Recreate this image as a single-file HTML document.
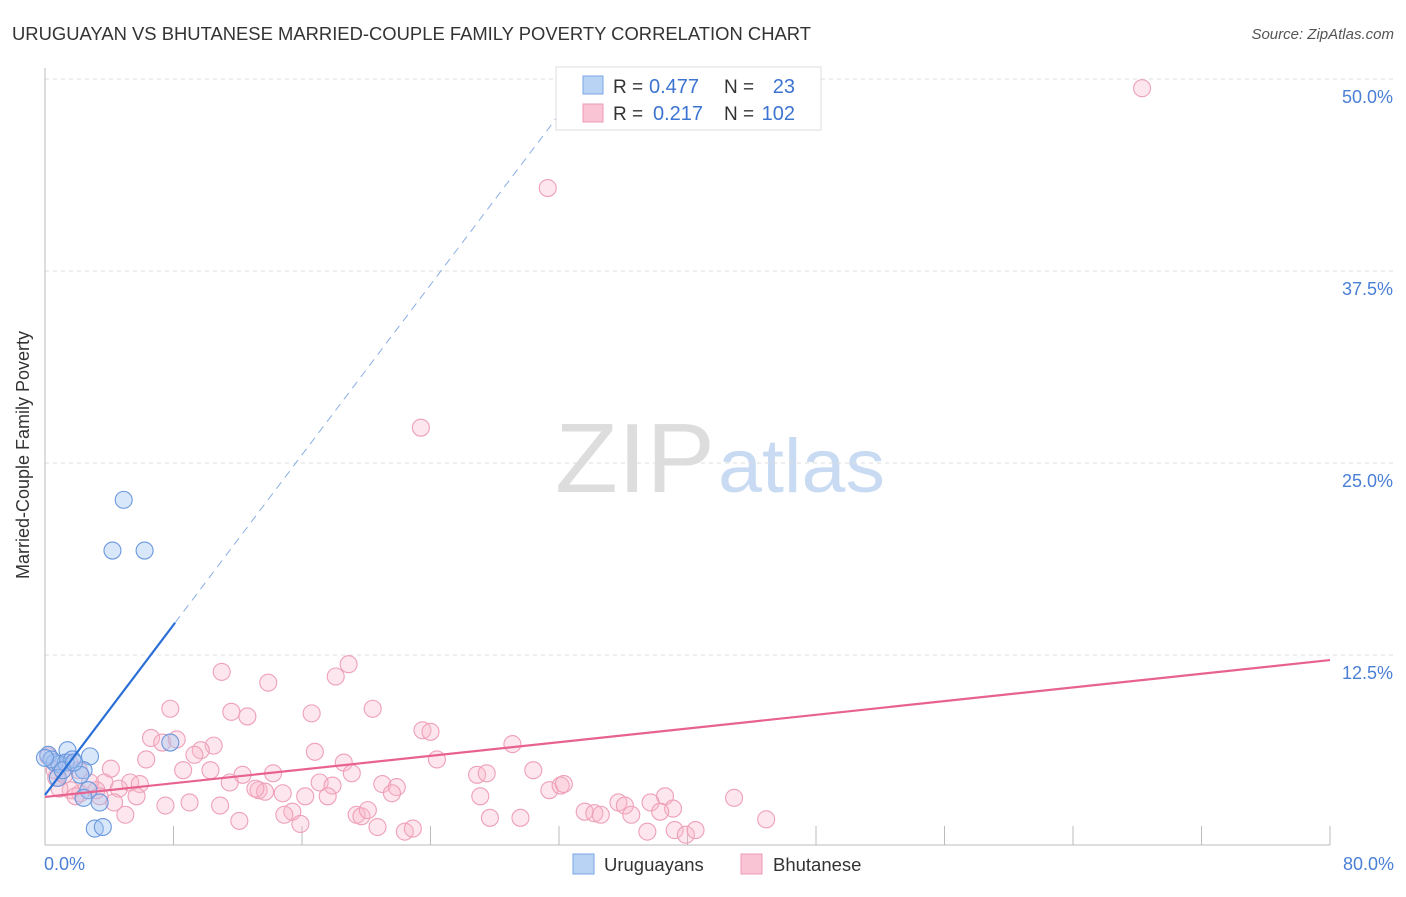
<!DOCTYPE html>
<html><head><meta charset="utf-8"><style>
body{margin:0;background:#fff;font-family:"Liberation Sans",sans-serif;}
svg text{font-family:"Liberation Sans",sans-serif;}
</style></head><body>
<svg width="1406" height="892" xmlns="http://www.w3.org/2000/svg">
<text x="12" y="40" font-size="18.5" fill="#333" textLength="799" lengthAdjust="spacingAndGlyphs">URUGUAYAN VS BHUTANESE MARRIED-COUPLE FAMILY POVERTY CORRELATION CHART</text>
<text x="1394" y="39" font-size="15" fill="#555" text-anchor="end" font-style="italic">Source: ZipAtlas.com</text>
<g>
<text x="555" y="492" font-size="98" fill="#ddd" font-family="Liberation Serif" textLength="160" lengthAdjust="spacingAndGlyphs">ZIP</text>
<text x="718" y="492" font-size="76" fill="#c9dbf3" textLength="167" lengthAdjust="spacingAndGlyphs">atlas</text>
</g>
<g id="grid"></g>
<g id="axes"></g>
<g id="marks"></g>
<text x="29" y="455" font-size="18" fill="#333" text-anchor="middle" transform="rotate(-90 29 455)">Married-Couple Family Poverty</text>
<g>
<rect x="556" y="67" width="265" height="63" fill="#fff" stroke="#ddd"/>
<rect x="583" y="76" width="20" height="18" fill="#b9d3f5" stroke="#7aa6e6"/>
<rect x="583" y="104" width="20" height="18" fill="#f9c4d3" stroke="#ec9ab4"/>
<text x="613" y="93" font-size="19" fill="#333">R =</text>
<text x="649" y="93" font-size="20" fill="#3d74d1">0.477</text>
<text x="724" y="93" font-size="19" fill="#333">N =</text>
<text x="795" y="93" font-size="20" fill="#3d74d1" text-anchor="end">23</text>
<text x="613" y="120" font-size="19" fill="#333">R =</text>
<text x="653" y="120" font-size="20" fill="#3d74d1">0.217</text>
<text x="724" y="120" font-size="19" fill="#333">N =</text>
<text x="795" y="120" font-size="20" fill="#3d74d1" text-anchor="end">102</text>
</g>
<g>
<rect x="573" y="854" width="21" height="20" fill="#b9d3f5" stroke="#7aa6e6"/>
<text x="604" y="871" font-size="18.5" fill="#333">Uruguayans</text>
<rect x="741" y="854" width="21" height="20" fill="#f9c4d3" stroke="#ec9ab4"/>
<text x="773" y="871" font-size="18.5" fill="#333">Bhutanese</text>
</g>
</svg>
<script>
const xTicks=[0,8,16,24,32,40,48,56,64,72,80];
const yTicks=[12.5,25,37.5,50];
const yTickLabels=["12.5%","25.0%","37.5%","50.0%"];
const xEndLabels=["0.0%","80.0%"];
const uruX=[4.9,4.2,6.2,7.8,1.4,2.8,0.2,0.6,0.9,1.3,1.7,2.4,2.2,0.8,2.7,3.4,2.4,3.1,3.6,0.4,0,1.1,1.8];
const uruY=[22.6,19.3,19.3,6.8,6.3,5.9,6.0,5.5,5.4,5.5,5.7,5.0,4.7,4.5,3.7,2.9,3.2,1.2,1.3,5.7,5.8,5.0,5.5];
const bhuX=[68.3,31.3,23.4,11.0,18.9,13.9,18.1,7.8,11.6,12.6,16.6,20.4,23.5,24.0,29.1,6.6,7.3,8.2,10.5,9.7,9.3,6.3,16.8,18.6,24.4,4.1,8.6,10.3,19.1,26.9,27.5,30.4,14.2,12.3,11.5,5.3,5.9,3.7,17.1,17.9,21.0,21.9,13.3,13.7,14.8,13.1,4.6,3.2,2.2,1.6,1.9,5.7,4.3,0.6,0.2,0.7,0.9,1.2,16.2,17.6,21.6,27.1,31.4,32.1,32.3,42.9,38.6,37.7,35.7,33.6,34.2,34.6,36.1,36.5,39.1,38.3,7.5,10.9,9.0,5.0,12.1,15.4,15.9,19.4,19.7,20.1,20.7,22.4,22.9,27.7,29.6,44.9,37.5,39.2,39.9,40.5,14.9,2.8,3.4,1.5,2.1,1.1];
const bhuY=[49.4,42.9,27.3,11.4,11.9,10.7,11.1,9.0,8.8,8.5,8.7,9.0,7.6,7.5,6.7,7.1,6.8,7.0,6.6,6.3,6.0,5.7,6.2,5.5,5.7,5.1,5.0,5.0,4.8,4.7,4.8,5.0,4.8,4.7,4.2,4.2,4.1,4.2,4.2,4.0,4.1,3.9,3.7,3.6,3.5,3.8,3.8,3.7,3.5,3.7,3.3,3.3,2.9,5.0,5.9,4.5,3.8,4.7,3.3,3.3,3.5,3.3,3.7,4.0,4.1,3.2,3.3,2.9,2.9,2.3,2.2,2.1,2.7,2.1,2.5,2.3,2.7,2.7,2.9,2.1,1.7,2.3,1.5,2.1,2.0,2.4,1.3,1.0,1.2,1.9,1.9,1.8,1.0,1.1,0.8,1.1,2.1,4.2,3.3,5.5,5.0,5.0];
const uruTrend=[3.39,1.384];
const bhuTrend=[3.26,12.17];
const NS="http://www.w3.org/2000/svg";
const sx=v=>45+v*1285/80;
const sy=v=>847-v*15.36;
function mk(tag,attrs,parent){const e=document.createElementNS(NS,tag);for(const k in attrs)e.setAttribute(k,attrs[k]);parent.appendChild(e);return e;}
const grid=document.getElementById('grid'),axes=document.getElementById('axes'),marks=document.getElementById('marks');
yTicks.forEach((t,i)=>{
 const l=mk('line',{x1:45,x2:1395,y1:sy(t),y2:sy(t),stroke:'#ddd','stroke-dasharray':'4,4'},grid);
 
 
 const tx=mk('text',{x:1393,y:sy(t)+24,'font-size':18,fill:'#4a7fd6','text-anchor':'end'},grid);
 tx.textContent=yTickLabels[i];
 
 
});
const ya=mk('line',{x1:45,x2:45,y1:68,y2:845,stroke:'#bbb'},axes);


const xa=mk('line',{x1:45,x2:1330,y1:845,y2:845,stroke:'#bbb'},axes);


xTicks.forEach(t=>{
 const l=mk('line',{x1:sx(t),x2:sx(t),y1:826,y2:845,stroke:'#bbb'},axes);
 
 
});
[[0,'start',44],[80,'end',1394]].forEach((d,i)=>{
 const tx=mk('text',{x:d[2],y:870,'font-size':18,fill:'#4a7fd6','text-anchor':d[1]},axes);
 tx.textContent=xEndLabels[i];
 
 
});
bhuX.forEach((x,i)=>{
 const c=mk('circle',{cx:sx(x),cy:sy(bhuY[i]),r:8.5,fill:'rgba(248,182,203,0.35)',stroke:'#eea0b8','stroke-width':1.1},marks);
 
 
});
uruX.forEach((x,i)=>{
 const c=mk('circle',{cx:sx(x),cy:sy(uruY[i]),r:8.5,fill:'rgba(160,196,242,0.4)',stroke:'#6a98dc','stroke-width':1.1},marks);
 
 
});
const xSolid=8.1, xDash=(50-uruTrend[0])/uruTrend[1];
const ul=mk('line',{x1:sx(0),y1:sy(uruTrend[0]),x2:sx(xSolid),y2:sy(uruTrend[0]+uruTrend[1]*xSolid),stroke:'#2a6fd6','stroke-width':2.2},marks);


const ud=mk('line',{x1:sx(xSolid),y1:sy(uruTrend[0]+uruTrend[1]*xSolid),x2:sx(xDash),y2:sy(50),stroke:'#8aaee4','stroke-width':1,'stroke-dasharray':'8,6'},marks);


const bl=mk('line',{x1:sx(0),y1:sy(bhuTrend[0]),x2:sx(80),y2:sy(bhuTrend[1]),stroke:'#e8628f','stroke-width':2.2},marks);


</script>
</body></html>
